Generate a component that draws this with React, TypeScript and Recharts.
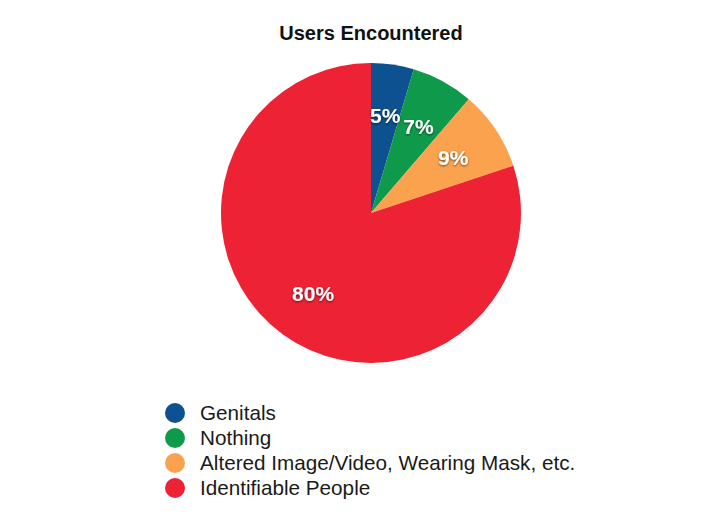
import { PieChart, Pie, Cell } from 'recharts';

const categories = ['Genitals', 'Nothing', 'Altered Image/Video, Wearing Mask, etc.', 'Identifiable People'];
const shares = [4.6, 6.7, 8.6, 80.1];
const colors = ['#0d5190', '#0f9a4b', '#fba24e', '#ee2235'];

const data = categories.map((name, i) => ({ name, value: shares[i] }));

const RADIAN = Math.PI / 180;

function SliceLabel(props: any) {
  const { cx, cy, midAngle, outerRadius, percent } = props;
  const r = outerRadius * 0.66;
  const x = cx + r * Math.cos(-midAngle * RADIAN);
  const y = cy + r * Math.sin(-midAngle * RADIAN);
  return (
    <text
      x={x}
      y={y}
      fill="#fff"
      textAnchor="middle"
      dominantBaseline="central"
      fontSize={21}
      fontWeight="bold"
      filter="url(#labelShadow)"
    >
      {`${Math.round(percent * 100)}%`}
    </text>
  );
}

function LegendList() {
  return (
    <div style={{ position: 'absolute', left: 165, top: 400 }}>
      {categories.map((c, i) => (
        <div key={c} style={{ display: 'flex', alignItems: 'center', height: 25 }}>
          <span
            style={{
              width: 20,
              height: 20,
              borderRadius: '50%',
              background: colors[i],
              display: 'inline-block',
              marginRight: 15,
            }}
          />
          <span style={{ fontSize: 20.7, color: '#1a1a1a' }}>{c}</span>
        </div>
      ))}
    </div>
  );
}

export default function App() {
  return (
    <div
      style={{
        position: 'absolute',
        left: 0,
        top: 0,
        width: 720,
        height: 520,
        background: '#fff',
        fontFamily: '"Liberation Sans", Arial, Helvetica, sans-serif',
      }}
    >
      <PieChart width={720} height={520}>
        <defs>
          <filter id="labelShadow" x="-20%" y="-20%" width="140%" height="160%">
            <feDropShadow dx="0" dy="1" stdDeviation="1" floodColor="#000" floodOpacity="0.6" />
          </filter>
        </defs>
        <Pie
          data={data}
          dataKey="value"
          nameKey="name"
          cx={366}
          cy={208}
          outerRadius={150}
          startAngle={90}
          endAngle={-270}
          stroke="none"
          label={SliceLabel}
          labelLine={false}
          isAnimationActive={false}
        >
          {data.map((d, i) => (
            <Cell key={d.name} fill={colors[i]} />
          ))}
        </Pie>
      </PieChart>
      <div
        style={{
          position: 'absolute',
          left: 0,
          width: 742,
          top: 22,
          textAlign: 'center',
          fontSize: 20,
          fontWeight: 'bold',
          color: '#111',
        }}
      >
        Users Encountered
      </div>
      <LegendList />
    </div>
  );
}
